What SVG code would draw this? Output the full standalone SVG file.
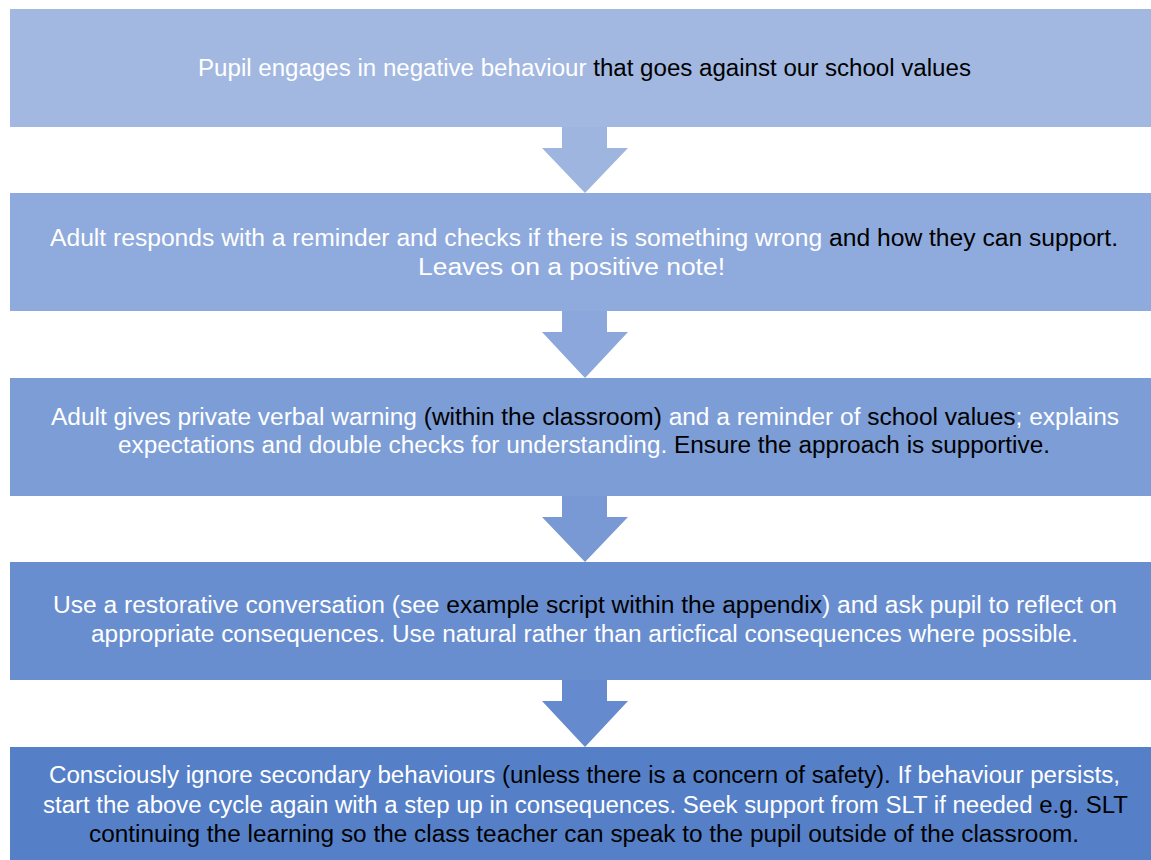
<svg xmlns="http://www.w3.org/2000/svg" width="1151" height="860" viewBox="0 0 1151 860">
<style>
text{font-family:"Liberation Sans","Open Sans",sans-serif;font-size:23px;fill:#ffffff;text-anchor:start}
.k{fill:#000000}
</style>
<rect width="1151" height="860" fill="#ffffff"/>
<g id="connectors">
<polygon points="562,127 607,127 607,148 628,148 585,193 542,148 562,148" fill="#9EB5DF"/>
<polygon points="562,311 607,311 607,332 628,332 585,378 542,332 562,332" fill="#8BA7DB"/>
<polygon points="562,496 607,496 607,517 628,517 585,562 542,517 562,517" fill="#7899D4"/>
<polygon points="562,680 607,680 607,701 628,701 585,747 542,701 562,701" fill="#658BCE"/>
</g>
<g id="node1">
<rect x="10" y="9" width="1141" height="118" fill="#A2B8E0"/>
<text x="198" y="76" textLength="773" lengthAdjust="spacingAndGlyphs">Pupil engages in negative behaviour<tspan class="k"> that goes against our school values</tspan></text>
</g>
<g id="node2">
<rect x="10" y="193" width="1141" height="118" fill="#8FAADC"/>
<text x="50" y="246" textLength="1068" lengthAdjust="spacingAndGlyphs">Adult responds with a reminder and checks if there is something wrong<tspan class="k"> and how they can support.</tspan></text>
<text x="418" y="275" textLength="307" lengthAdjust="spacingAndGlyphs">Leaves on a positive note!</text>
</g>
<g id="node3">
<rect x="10" y="378" width="1141" height="118" fill="#7C9DD6"/>
<text x="51" y="425" textLength="1068" lengthAdjust="spacingAndGlyphs">Adult gives private verbal warning <tspan class="k">(within the classroom)</tspan> and a reminder of <tspan class="k">school values</tspan>; explains</text>
<text x="118" y="453" textLength="932" lengthAdjust="spacingAndGlyphs">expectations and double checks for understanding.<tspan class="k"> Ensure the approach is supportive.</tspan></text>
</g>
<g id="node4">
<rect x="10" y="562" width="1141" height="118" fill="#698ECF"/>
<text x="53" y="613" textLength="1064" lengthAdjust="spacingAndGlyphs">Use a restorative conversation (see <tspan class="k">example script within the appendix</tspan>) and ask pupil to reflect on</text>
<text x="91" y="642" textLength="987" lengthAdjust="spacingAndGlyphs">appropriate consequences. Use natural rather than articfical consequences where possible.</text>
</g>
<g id="node5">
<rect x="10" y="747" width="1141" height="118" fill="#5580C8"/>
<text x="49" y="783" textLength="1071" lengthAdjust="spacingAndGlyphs">Consciously ignore secondary behaviours <tspan class="k">(unless there is a concern of safety).</tspan> If behaviour persists,</text>
<text x="43" y="813" textLength="1085" lengthAdjust="spacingAndGlyphs">start the above cycle again with a step up in consequences. Seek support from SLT if needed<tspan class="k"> e.g. SLT</tspan></text>
<text x="89" y="842" class="k" textLength="990" lengthAdjust="spacingAndGlyphs">continuing the learning so the class teacher can speak to the pupil outside of the classroom.</text>
</g>
</svg>
